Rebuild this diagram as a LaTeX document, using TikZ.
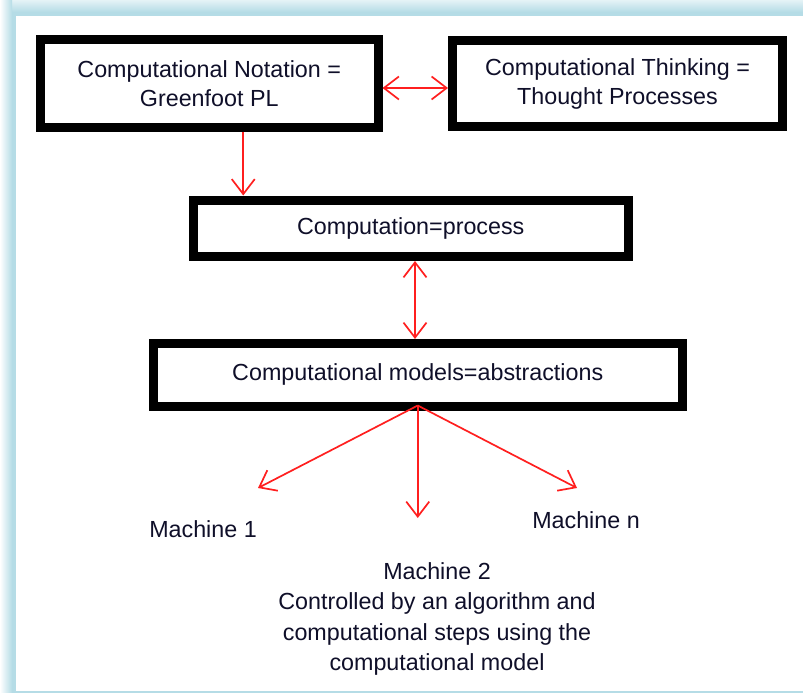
\documentclass[tikz,border=0pt]{standalone}
\usepackage{fontspec}
\setmainfont{Liberation Sans}
\usetikzlibrary{arrows.meta,calc}
\definecolor{frameblue}{HTML}{B5DCE6}
\definecolor{inkdark}{rgb}{0.06,0.06,0.16}
\definecolor{arrowred}{rgb}{1,0.12,0.12}
\tikzset{
  conceptbox/.style={draw=black, line width=9pt, fill=white, inner sep=0pt,
    align=center, text=inkdark,
    font=\fontsize{23.3pt}{29pt}\selectfont},
  plainlabel/.style={inner sep=0pt, align=center, text=inkdark,
    font=\fontsize{23.3pt}{30.5pt}\selectfont},
  redarrow/.style={draw=arrowred, line width=1.7pt,
    -{Straight Barb[length=15pt,width=23pt]}},
  redboth/.style={draw=arrowred, line width=1.7pt,
    {Straight Barb[length=15pt,width=23pt]}-{Straight Barb[length=15pt,width=23pt]}}
}
\begin{document}
\begin{tikzpicture}[x=1pt,y=-1pt]
  \useasboundingbox (0,0) rectangle (803,693);
  % page frame: white sheet with a soft blue band on the top and left
  \fill[white] (0,0) rectangle (803,693);
  \fill[frameblue] (0,0) rectangle (16,693);
  \fill[frameblue] (0,0) rectangle (803,16);
  \shade[top color=frameblue!35!white, bottom color=frameblue] (0,0) rectangle (803,12);
  \shade[left color=white, right color=frameblue] (0,0) rectangle (12,693);
  \fill[frameblue] (16,690.5) rectangle (803,693);

  % concept boxes
  \node[conceptbox, minimum width=337.5pt, minimum height=87pt] (notation)
    at (209.25,83.5) {Computational Notation =\\Greenfoot PL};
  \node[conceptbox, minimum width=330pt, minimum height=85pt] (thinking)
    at (617.5,83.5) {Computational Thinking =\\Thought Processes};
  \node[conceptbox, minimum width=434.5pt, minimum height=56.5pt] (process)
    at (410.75,228.25) {Computation=process};
  \node[conceptbox, minimum width=529.5pt, minimum height=62.5pt] (models)
    at (417.75,374.75) {Computational models=abstractions};

  % machines
  \node[plainlabel, anchor=base] (m1) at (203,537) {Machine 1};
  \node[plainlabel, anchor=base] (mn) at (586,528) {Machine n};
  \node[plainlabel, anchor=north] (m2) at (437,562)
    {Machine 2\\Controlled by an algorithm and\\computational steps using the\\computational model};

  % free ends of the fan of arrows
  \coordinate (t1) at (258,488);
  \coordinate (t2) at (417.75,518);
  \coordinate (tn) at (577,488);

  % connectors
  \draw[redboth] ($(notation.east)+(0,4.5)$) -- ($(thinking.west)+(0,4.5)$);
  \draw[redarrow] ($(notation.south)+(34,0)$) -- ({$(notation.south)+(34,0)$} |- process.north);
  \draw[redboth] ($(process.south)+(4.25,0)$) -- ({$(process.south)+(4.25,0)$} |- models.north);
  \draw[redarrow] ($(models.south)+(0,-5)$) -- (t1);
  \draw[redarrow] ($(models.south)+(0,-5)$) -- (t2);
  \draw[redarrow] ($(models.south)+(0,-5)$) -- (tn);
\end{tikzpicture}
\end{document}
